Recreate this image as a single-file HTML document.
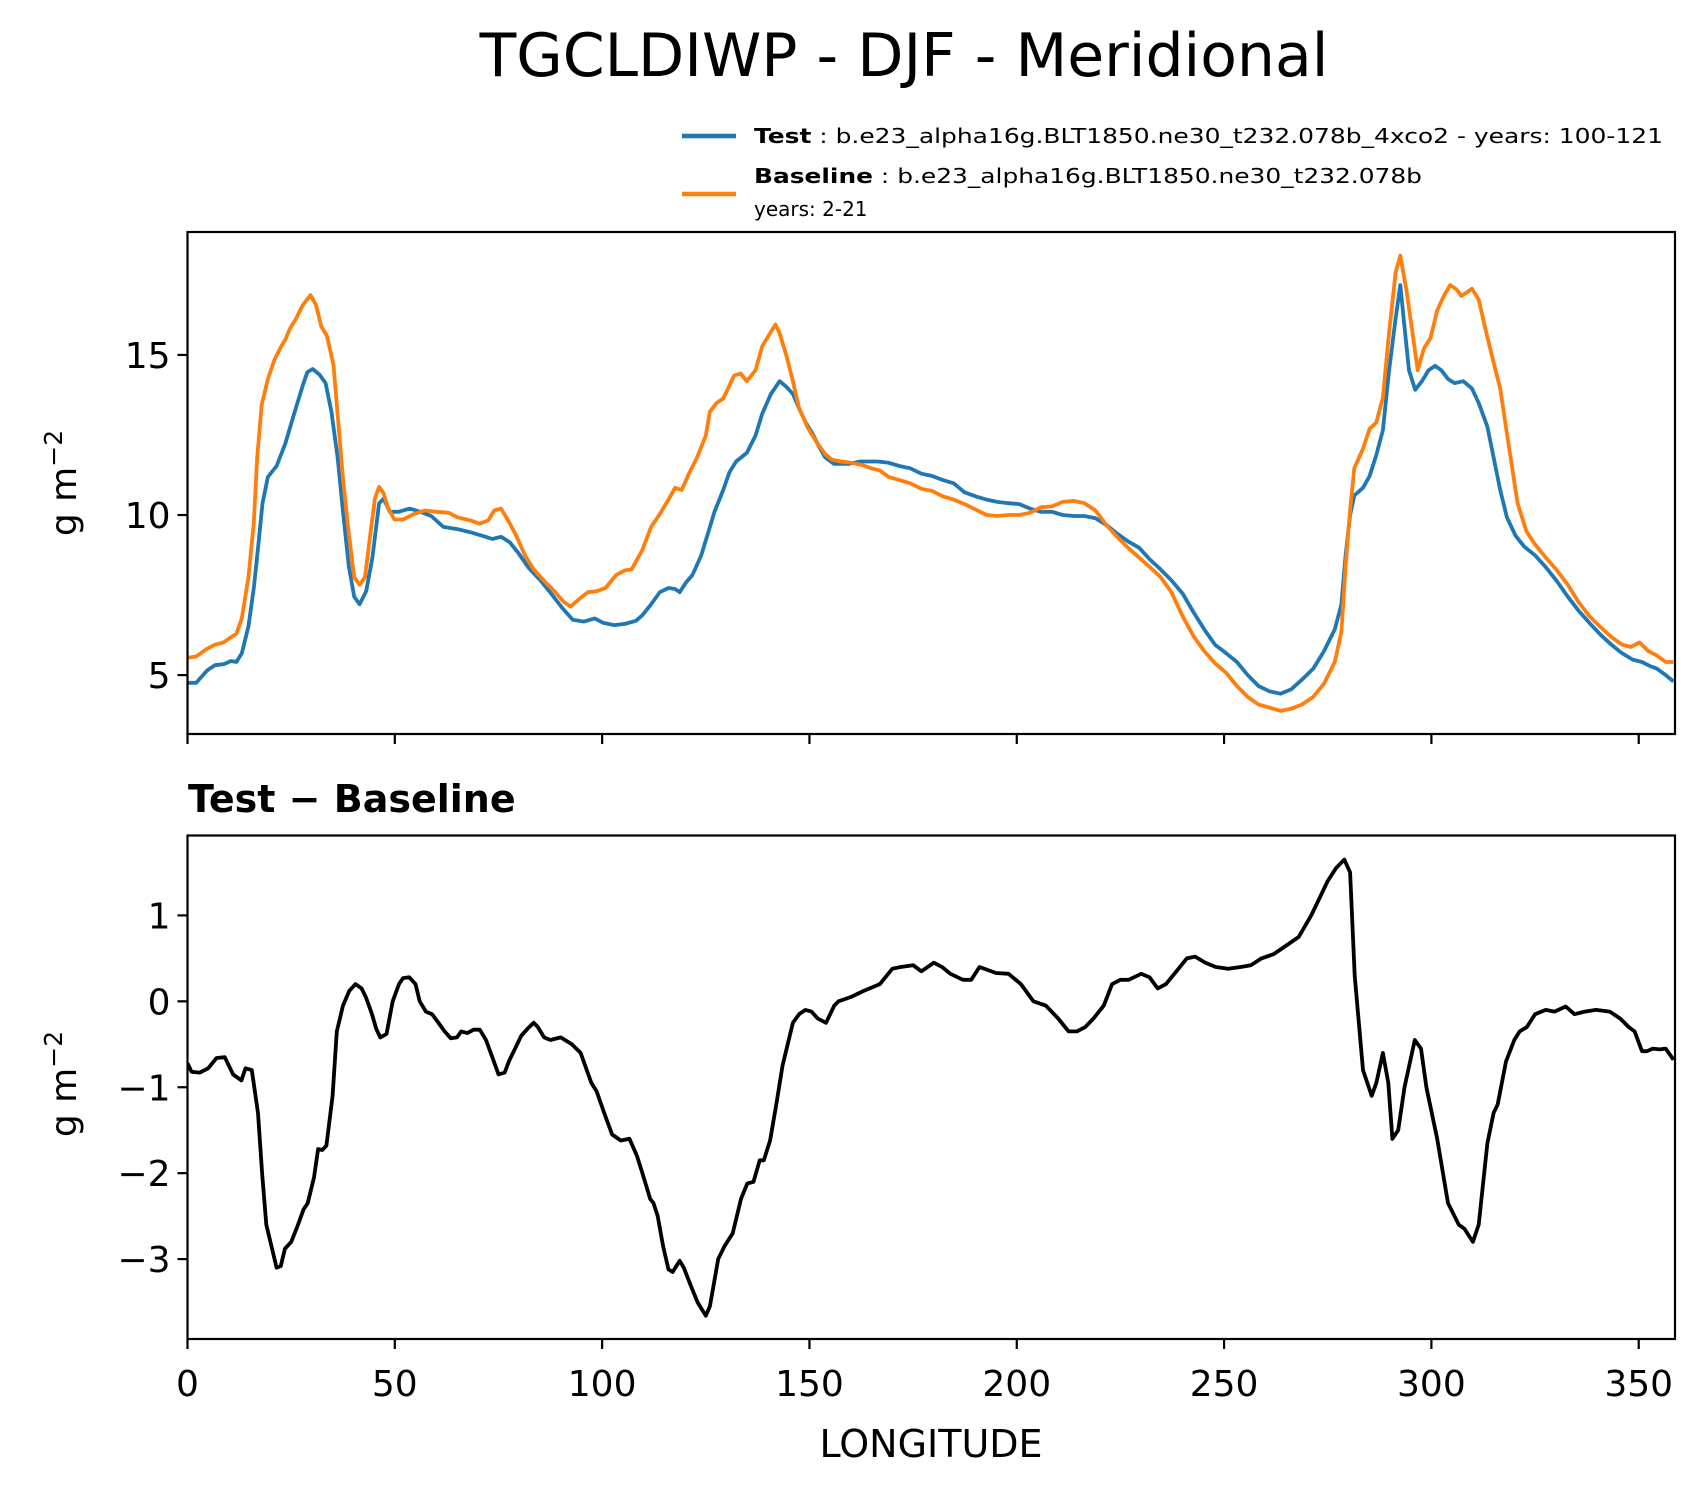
<!DOCTYPE html>
<html><head><meta charset="utf-8"><style>
html,body{margin:0;padding:0;background:#fff;}
svg{display:block;font-family:"DejaVu Sans","Liberation Sans",sans-serif;}
</style></head><body>
<svg id="chart" width="1708" height="1496" viewBox="0 0 1708 1496" xmlns="http://www.w3.org/2000/svg">
<rect width="1708" height="1496" fill="#fff"/>
<text x="904" y="76" font-size="60" text-anchor="middle">TGCLDIWP - DJF - Meridional</text>
<g>
<line x1="682" y1="136" x2="736" y2="136" stroke="#1f77b4" stroke-width="4.5"/>
<text x="754" y="143" font-size="20" textLength="909" lengthAdjust="spacingAndGlyphs"><tspan font-weight="bold">Test</tspan> : b.e23_alpha16g.BLT1850.ne30_t232.078b_4xco2 - years: 100-121</text>
<line x1="682" y1="194" x2="736" y2="194" stroke="#ff7f0e" stroke-width="4.5"/>
<text x="754" y="183" font-size="20" textLength="668" lengthAdjust="spacingAndGlyphs"><tspan font-weight="bold">Baseline</tspan> : b.e23_alpha16g.BLT1850.ne30_t232.078b</text>
<text x="754" y="216" font-size="20">years: 2-21</text>
</g>
<g id="top"></g>
<g id="bot"></g>
<text x="188" y="812" font-size="38" font-weight="bold">Test − Baseline</text>
<text x="931" y="1457" font-size="38" text-anchor="middle">LONGITUDE</text>
<text transform="translate(76,483) rotate(-90)" font-size="36" text-anchor="middle">g m<tspan dy="-14" font-size="25">−2</tspan></text>
<text transform="translate(76,1084) rotate(-90)" font-size="36" text-anchor="middle">g m<tspan dy="-14" font-size="25">−2</tspan></text>
</svg>
<script>
const testLon=[0,2.1,4.7,6.6,8.7,10.5,11.8,13.1,14.7,16.0,17.1,18.1,19.4,21.5,23.6,25.7,27.8,28.9,30.2,31.8,33.3,34.7,36.2,37.5,38.9,40.2,41.5,43.1,44.6,46.2,47.3,48.8,50.9,53.6,56.2,58.8,61.7,65.1,68.3,71.9,73.5,75.6,77.7,79.8,82.4,85.1,87.7,90.3,92.9,95.6,98.2,100.3,102.9,105.5,108.2,109.7,111.8,113.9,116.0,117.6,118.7,120.2,121.8,123.9,125.5,127.1,129.2,130.7,132.3,134.9,137.0,138.6,140.7,142.8,144.4,146.0,147.5,149.1,150.7,152.3,153.8,155.9,159.6,162.2,166.4,169.1,171.7,174.3,177.0,179.6,182.2,184.8,187.4,190.1,192.7,195.3,198.0,200.6,203.2,205.8,208.5,211.1,213.7,216.3,219.0,221.6,224.2,226.8,229.5,232.1,234.7,237.3,240.0,242.6,245.2,247.8,250.5,253.1,255.7,258.3,261.0,263.6,266.2,268.8,271.5,274.1,276.7,278.3,279.3,280.4,281.4,283.5,285.1,286.7,288.3,289.8,291.4,292.5,293.5,294.6,296.1,297.7,299.3,300.9,302.4,304.0,305.6,307.7,309.8,311.4,313.5,315.0,316.6,318.2,320.3,322.4,325.0,327.6,330.3,332.9,335.5,338.1,340.8,343.4,346.0,348.6,350.8,352.9,354.4,356.5,358.4];
const testVal=[4.76,4.76,5.14,5.31,5.34,5.44,5.41,5.68,6.53,7.72,9.08,10.37,11.19,11.53,12.24,13.16,14.05,14.46,14.56,14.39,14.12,13.23,11.80,10.10,8.40,7.45,7.21,7.62,8.67,10.37,10.51,10.10,10.10,10.20,10.10,9.97,9.63,9.56,9.46,9.32,9.25,9.32,9.15,8.81,8.33,7.96,7.55,7.11,6.73,6.67,6.77,6.63,6.56,6.60,6.70,6.87,7.21,7.59,7.72,7.69,7.59,7.89,8.13,8.74,9.42,10.10,10.78,11.33,11.67,11.94,12.48,13.16,13.78,14.18,14.01,13.78,13.33,12.89,12.55,12.14,11.80,11.60,11.60,11.67,11.67,11.63,11.53,11.46,11.29,11.22,11.09,10.99,10.71,10.58,10.48,10.41,10.37,10.34,10.20,10.10,10.10,10.00,9.97,9.97,9.90,9.69,9.42,9.18,8.98,8.61,8.30,7.96,7.55,6.97,6.43,5.95,5.68,5.41,5.00,4.66,4.49,4.42,4.56,4.86,5.20,5.75,6.43,7.21,8.74,10.00,10.61,10.85,11.22,11.87,12.65,14.52,16.16,17.18,15.88,14.52,13.91,14.18,14.52,14.66,14.52,14.25,14.12,14.18,13.95,13.50,12.76,11.80,10.78,9.93,9.35,9.01,8.74,8.37,7.93,7.45,7.01,6.63,6.26,5.95,5.68,5.48,5.41,5.27,5.20,5.00,4.80];
const baseLon=[0,2.1,4.7,6.6,8.7,10.2,11.8,13.1,14.7,16.0,16.8,17.9,19.4,21.0,22.6,23.6,24.7,26.3,27.8,29.7,31.0,32.3,33.6,35.2,36.2,37.5,38.9,40.2,41.5,42.8,44.1,45.2,46.2,47.3,48.3,49.9,52.0,54.6,57.2,59.9,63.0,65.1,68.3,70.4,72.5,74.0,75.6,77.2,79.3,81.4,83.5,86.1,88.7,90.8,92.4,94.5,96.6,98.7,100.8,103.4,105.5,107.1,109.7,111.8,113.9,116.0,117.6,119.2,120.8,122.9,125.0,126.0,127.6,129.2,130.2,131.8,133.4,134.9,137.0,138.6,140.2,141.8,142.8,144.4,146.0,147.5,149.6,151.7,153.8,155.4,157.5,160.1,162.8,164.9,167.0,169.1,171.7,174.3,177.0,179.6,182.2,184.8,187.4,190.1,192.7,195.3,198.0,200.6,203.2,205.8,208.5,211.1,213.7,216.3,219.0,221.6,224.2,226.8,229.5,232.1,234.7,237.3,240.0,242.6,245.2,247.8,250.5,253.1,255.7,258.3,261.0,263.6,266.2,268.8,271.5,274.1,276.7,278.3,279.3,280.4,281.4,283.5,285.1,286.7,288.3,289.8,291.4,292.5,294.0,295.6,296.7,298.2,299.8,301.4,303.0,304.5,306.1,307.2,308.7,309.8,311.4,312.9,314.5,316.6,318.7,320.8,322.9,325.0,327.6,330.3,332.9,335.5,338.1,340.8,343.4,346.0,348.1,350.2,352.3,354.4,356.5,358.4];
const baseVal=[5.54,5.58,5.82,5.95,6.02,6.16,6.29,6.77,8.06,9.76,11.80,13.44,14.25,14.86,15.27,15.48,15.82,16.16,16.56,16.87,16.56,15.88,15.61,14.69,13.16,11.12,9.42,8.06,7.82,8.06,9.42,10.51,10.88,10.68,10.24,9.86,9.86,10.03,10.14,10.10,10.07,9.93,9.83,9.73,9.83,10.14,10.20,9.86,9.35,8.74,8.30,7.93,7.59,7.28,7.14,7.38,7.59,7.62,7.72,8.13,8.27,8.30,8.91,9.63,10.03,10.48,10.85,10.78,11.26,11.80,12.48,13.23,13.50,13.64,13.91,14.35,14.42,14.18,14.52,15.27,15.61,15.95,15.68,15.00,14.18,13.33,12.72,12.28,11.90,11.73,11.67,11.63,11.56,11.46,11.39,11.19,11.09,10.99,10.82,10.75,10.58,10.48,10.34,10.17,10.00,9.97,10.00,10.00,10.07,10.24,10.27,10.41,10.44,10.37,10.14,9.69,9.32,8.98,8.67,8.37,8.06,7.59,6.84,6.22,5.75,5.37,5.07,4.66,4.32,4.08,3.98,3.88,3.95,4.08,4.32,4.73,5.41,6.36,8.40,10.17,11.46,12.07,12.69,12.89,13.67,15.71,17.59,18.10,17.01,15.54,14.52,15.20,15.54,16.39,16.84,17.18,17.04,16.84,16.97,17.07,16.73,15.88,15.03,13.95,12.14,10.37,9.49,9.08,8.67,8.27,7.82,7.28,6.84,6.50,6.19,5.95,5.88,6.02,5.75,5.61,5.41,5.41];
const diffLon=[0,1,3,5,7,9,11,13,14,15.5,17,18,19,21.5,22.5,23.5,25,26.5,28,29,30.5,31.5,32.5,33.5,35,36,37.5,39,40.5,42,43,44.5,45.5,46.5,48,49.5,51,52,53.5,55,56,57.5,59,60.5,62,63.5,65,66,67.5,69,70.5,72,73.5,75,76.5,77.5,79,80.5,82,83.5,84.5,86,87.5,90,92.7,94.8,97.4,98.7,100.5,102.4,104.5,106.6,108.4,109.7,111.6,112.4,113.4,114.7,116,117,118.7,119.7,121.3,123,125,126,128,129.5,131.5,133.5,135,136.5,138,139,140.5,142,143.5,145,146,147.5,149,150.5,152,154,156,157,160,163,167,170,172,175,177,180,182,184,187,189,191,195,198,201,204,207,210,212.5,214.5,216.5,218.5,221,223,225,227,230,232,234,236,238.5,241,243,245.5,248,251,254,256.5,259,262,265,268,271,273,275,277,279,280.4,281.5,283.5,285.6,286.7,288.3,289.6,290.6,292,293.5,296,297.5,298.8,301.4,304,306.6,308,310,311.4,313.5,315,316,318,320,321.3,323,325,327.6,329.7,332.4,334.5,337,339.7,343,345.5,347.6,349,350.8,352,353.4,355,356.5,358.4];
const diffVal=[-0.72,-0.82,-0.83,-0.78,-0.66,-0.65,-0.85,-0.92,-0.78,-0.8,-1.3,-2.0,-2.6,-3.1,-3.08,-2.88,-2.8,-2.62,-2.42,-2.35,-2.05,-1.72,-1.73,-1.68,-1.1,-0.35,-0.05,0.12,0.2,0.15,0.05,-0.15,-0.32,-0.42,-0.38,0.0,0.2,0.27,0.28,0.2,0.0,-0.12,-0.15,-0.25,-0.35,-0.43,-0.42,-0.35,-0.37,-0.33,-0.33,-0.45,-0.65,-0.85,-0.83,-0.7,-0.55,-0.4,-0.32,-0.25,-0.3,-0.42,-0.45,-0.42,-0.5,-0.6,-0.95,-1.05,-1.3,-1.55,-1.62,-1.6,-1.8,-2.0,-2.3,-2.35,-2.5,-2.85,-3.12,-3.15,-3.02,-3.1,-3.3,-3.5,-3.66,-3.55,-3.0,-2.85,-2.7,-2.3,-2.12,-2.1,-1.85,-1.85,-1.62,-1.2,-0.75,-0.45,-0.25,-0.15,-0.1,-0.12,-0.2,-0.25,-0.05,0.0,0.05,0.12,0.2,0.38,0.4,0.42,0.35,0.45,0.4,0.32,0.25,0.25,0.4,0.33,0.32,0.2,0.0,-0.05,-0.2,-0.35,-0.35,-0.3,-0.2,-0.05,0.2,0.25,0.25,0.32,0.28,0.15,0.2,0.35,0.5,0.52,0.45,0.4,0.38,0.4,0.42,0.5,0.55,0.65,0.75,1.0,1.2,1.4,1.55,1.65,1.5,0.3,-0.8,-1.1,-0.95,-0.6,-0.95,-1.6,-1.5,-1.0,-0.45,-0.55,-1.0,-1.6,-2.35,-2.6,-2.65,-2.8,-2.6,-1.65,-1.3,-1.2,-0.7,-0.45,-0.35,-0.3,-0.15,-0.1,-0.12,-0.06,-0.15,-0.12,-0.1,-0.12,-0.2,-0.3,-0.35,-0.58,-0.58,-0.55,-0.56,-0.55,-0.68];
const xTicks=[0,50,100,150,200,250,300,350];
const topYTicks=[5,10,15];
const botYTicks=[-3,-2,-1,0,1];

const NS='http://www.w3.org/2000/svg';
const L=187.5,R=1675,XMAX=358.75;
function xs(v){return L+(R-L)*v/XMAX;}
function mkY(top,bot,vmax,vmin){return v=>top+(bot-top)*(vmax-v)/(vmax-vmin);}
function el(tag,attrs,parent){const e=document.createElementNS(NS,tag);for(const k in attrs)e.setAttribute(k,attrs[k]);parent.appendChild(e);return e;}
function panel(g,top,bot,y,yticks,showX,prefix){
  yticks.forEach(t=>{
    const tk=el('line',{x1:L-10,x2:L,y1:y(t),y2:y(t),stroke:'#000','stroke-width':2.2},g);
    
    
    const lb=el('text',{x:L-17,y:y(t)+13,'font-size':36,'text-anchor':'end'},g);
    lb.textContent=String(t).replace('-','−');
    
    
  });
  xTicks.forEach(t=>{
    const tk=el('line',{x1:xs(t),x2:xs(t),y1:bot,y2:bot+10,stroke:'#000','stroke-width':2.2},g);
    
    
    if(showX){
      const lb=el('text',{x:xs(t),y:bot+57,'font-size':36,'text-anchor':'middle'},g);
      lb.textContent=t;
      
      
    }
  });
}
function series(g,lons,vals,y,color,name,cid){
  const d=lons.map((l,i)=>(i?'L':'M')+xs(l).toFixed(1)+','+y(vals[i]).toFixed(1)).join(' ');
  const p=el('path',{d:d,fill:'none',stroke:color,'stroke-width':3.8,'stroke-linejoin':'round','clip-path':'url(#'+cid+')'},g);
  
  
}
const svg=document.getElementById('chart');
const defs=el('defs',{},svg);
const c1=el('clipPath',{id:'c1'},defs);el('rect',{x:L,y:232,width:R-L,height:502},c1);
const c2=el('clipPath',{id:'c2'},defs);el('rect',{x:L,y:835.5,width:R-L,height:503.5},c2);
const gt=document.getElementById('top'),gb=document.getElementById('bot');
const yT=mkY(232,734,18.84,3.16);
const yB=mkY(835.5,1339,1.93,-3.93);
series(gt,testLon,testVal,yT,'#1f77b4','test-line','c1');
series(gt,baseLon,baseVal,yT,'#ff7f0e','baseline-line','c1');
series(gb,diffLon,diffVal,yB,'#000','difference-line','c2');
panel(gt,232,734,yT,topYTicks,false,'top');
panel(gb,835.5,1339,yB,botYTicks,true,'bottom');
const f1=el('rect',{x:L,y:232,width:R-L,height:502,fill:'none',stroke:'#000','stroke-width':2.2},gt);


const f2=el('rect',{x:L,y:835.5,width:R-L,height:503.5,fill:'none',stroke:'#000','stroke-width':2.2},gb);


</script>
</body></html>
